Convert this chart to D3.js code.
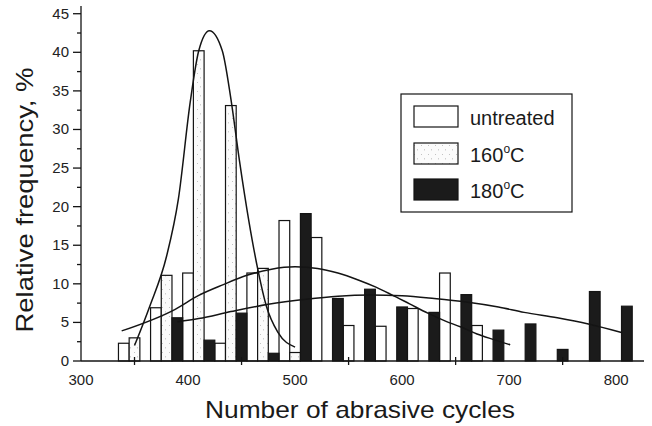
<!DOCTYPE html>
<html>
<head>
<meta charset="utf-8">
<script src="https://cdn.jsdelivr.net/npm/d3@7"></script>
<style>
  html, body { margin: 0; padding: 0; background: #fff; }
  svg { display: block; font-family: "Liberation Sans", Arial, sans-serif; }
</style>
</head>
<body>
<svg id="chart" width="652" height="426"></svg>
<script>
// Histogram bins: each series has its own bar centre (cycles) and frequency (%)
const untreatedCenters = [340, 370, 400, 430, 460, 490, 520, 550, 580, 610, 640, 670];
const untreatedValues  = [2.3, 6.9, 11.4, 2.3, 11.4, 18.2, 16.0, 4.6, 4.5, 6.8, 11.4, 4.6];

const t160Centers = [350, 380, 410, 440, 470, 500];
const t160Values  = [3.0, 11.1, 40.2, 33.1, 12.0, 1.1];

const t180Centers = [390, 420, 450, 480, 510, 540, 570, 600, 630, 660, 690, 720, 750, 780, 810];
const t180Values  = [5.6, 2.7, 6.2, 1.0, 19.1, 8.1, 9.3, 7.0, 6.3, 8.6, 4.0, 4.8, 1.5, 9.0, 7.1];

// Fitted distribution curves, sampled as [cycles, %]
const fitUntreated = [[338, 3.9], [388, 6.7], [410, 8.5], [433, 9.9], [455, 11.1], [478, 11.9],
  [500, 12.2], [521, 12.0], [540, 11.4], [559, 10.5], [575, 9.6], [590, 8.6], [607, 7.4],
  [624, 6.2], [640, 5.2], [655, 4.4], [670, 3.5], [685, 2.8], [701, 2.1]];
const fit160 = [[350, 2.0], [364, 7.0], [380, 13.6], [391, 21], [402, 33.5], [410, 40.2],
  [420, 42.8], [432, 40.2], [440, 34], [448, 26], [457, 18], [465, 12], [473, 7.2],
  [484, 3.7], [500, 1.8]];
const fit180 = [[390, 5.1], [410, 5.5], [440, 6.4], [475, 7.35], [510, 8.0], [540, 8.4],
  [570, 8.55], [600, 8.45], [630, 8.1], [660, 7.65], [690, 7.0], [714, 6.3], [745, 5.6],
  [774, 4.8], [805, 3.7]];

const xTickValues = [300, 400, 500, 600, 700, 800];
const xMinorTicks = [350, 450, 550, 650, 750];
const yTickValues = [0, 5, 10, 15, 20, 25, 30, 35, 40, 45];
const yMinorTicks = [2.5, 7.5, 12.5, 17.5, 22.5, 27.5, 32.5, 37.5, 42.5];

const legendLabels = ["untreated", "160", "180"];

const binWidth = 10;
const ink = "#141414";

const svg = d3.select("#chart");

const x = d3.scaleLinear().domain([300, 826]).range([81, 644]);
const y = d3.scaleLinear().domain([0, 46]).range([361, 6]);

// faint stippled fill for the 160 °C bars
const defs = svg.append("defs");
const pat = defs.append("pattern")
  .attr("id", "stipple").attr("patternUnits", "userSpaceOnUse")
  .attr("width", 7).attr("height", 9);
pat.append("rect").attr("width", 7).attr("height", 9).attr("fill", "#fbfbfb");
pat.append("rect").attr("x", 1).attr("y", 1).attr("width", 1).attr("height", 1).attr("fill", "#c2c2c2");
pat.append("rect").attr("x", 4).attr("y", 5).attr("width", 1).attr("height", 1.5).attr("fill", "#cfcfcf");

function drawBars(centers, values, fill) {
  svg.append("g").selectAll("rect")
    .data(d3.zip(centers, values))
    .join("rect")
    .attr("x", d => x(d[0] - binWidth / 2))
    .attr("width", d => x(d[0] + binWidth / 2) - x(d[0] - binWidth / 2))
    .attr("y", d => y(d[1]))
    .attr("height", d => y(0) - y(d[1]))
    .attr("fill", fill)
    .attr("stroke", ink)
    .attr("stroke-width", 1.2);
}

drawBars(untreatedCenters, untreatedValues, "#ffffff");
drawBars(t160Centers, t160Values, "url(#stipple)");
drawBars(t180Centers, t180Values, "#1b1b1b");

// fitted curves
const line = d3.line()
  .x(d => x(d[0]))
  .y(d => y(d[1]))
  .curve(d3.curveMonotoneX);

[fitUntreated, fit160, fit180].forEach(pts => {
  svg.append("path")
    .attr("d", line(pts))
    .attr("fill", "none")
    .attr("stroke", ink)
    .attr("stroke-width", 1.5);
});

// axes
const axisG = svg.append("g").attr("stroke", ink).attr("stroke-width", 1.3);
axisG.append("line").attr("x1", x(300)).attr("x2", x(826)).attr("y1", y(0)).attr("y2", y(0));
axisG.append("line").attr("x1", x(300)).attr("x2", x(300)).attr("y1", y(0)).attr("y2", y(46));

axisG.selectAll(".ymaj").data(yTickValues).join("line")
  .attr("x1", x(300) - 8).attr("x2", x(300))
  .attr("y1", d => y(d)).attr("y2", d => y(d));
axisG.selectAll(".ymin").data(yMinorTicks).join("line")
  .attr("x1", x(300) - 4).attr("x2", x(300))
  .attr("y1", d => y(d)).attr("y2", d => y(d));
axisG.selectAll(".xmin").data(xMinorTicks).join("line")
  .attr("x1", d => x(d)).attr("x2", d => x(d))
  .attr("y1", y(0) - 4).attr("y2", y(0) + 4);

svg.append("g").selectAll("text").data(yTickValues).join("text")
  .attr("x", x(300) - 12)
  .attr("y", d => y(d) + 5)
  .attr("text-anchor", "end")
  .attr("font-size", 15)
  .attr("fill", "#222")
  .text(d => d);

svg.append("g").selectAll("text").data(xTickValues).join("text")
  .attr("x", d => x(d))
  .attr("y", 385)
  .attr("text-anchor", "middle")
  .attr("font-size", 15)
  .attr("fill", "#222")
  .text(d => d);

svg.append("text")
  .attr("x", 360).attr("y", 418)
  .attr("text-anchor", "middle")
  .attr("font-size", 24)
  .attr("textLength", 310)
  .attr("lengthAdjust", "spacingAndGlyphs")
  .attr("fill", "#1a1a1a")
  .text("Number of abrasive cycles");

svg.append("text")
  .attr("transform", "translate(33,200) rotate(-90)")
  .attr("text-anchor", "middle")
  .attr("font-size", 24)
  .attr("textLength", 265)
  .attr("lengthAdjust", "spacingAndGlyphs")
  .attr("fill", "#1a1a1a")
  .text("Relative frequency, %");

// legend
const lg = svg.append("g");
lg.append("rect").attr("x", 401).attr("y", 94).attr("width", 171).attr("height", 118)
  .attr("fill", "#fff").attr("stroke", ink).attr("stroke-width", 1.2);
const swatchFills = ["#ffffff", "url(#stipple)", "#1b1b1b"];
const rowTop = [106, 143, 179];
const rowBase = [125, 162, 198];
legendLabels.forEach((lab, i) => {
  lg.append("rect").attr("x", 414).attr("y", rowTop[i]).attr("width", 44).attr("height", 21)
    .attr("fill", swatchFills[i]).attr("stroke", ink).attr("stroke-width", 1.2);
  const t = lg.append("text").attr("x", 470).attr("y", rowBase[i])
    .attr("font-size", 20).attr("fill", "#1a1a1a");
  if (i === 0) {
    t.text(lab);
  } else {
    t.append("tspan").text(lab);
    t.append("tspan").attr("font-size", 12).attr("dy", -9).text("o");
    t.append("tspan").attr("dy", 9).text("C");
  }
});
</script>
</body>
</html>
